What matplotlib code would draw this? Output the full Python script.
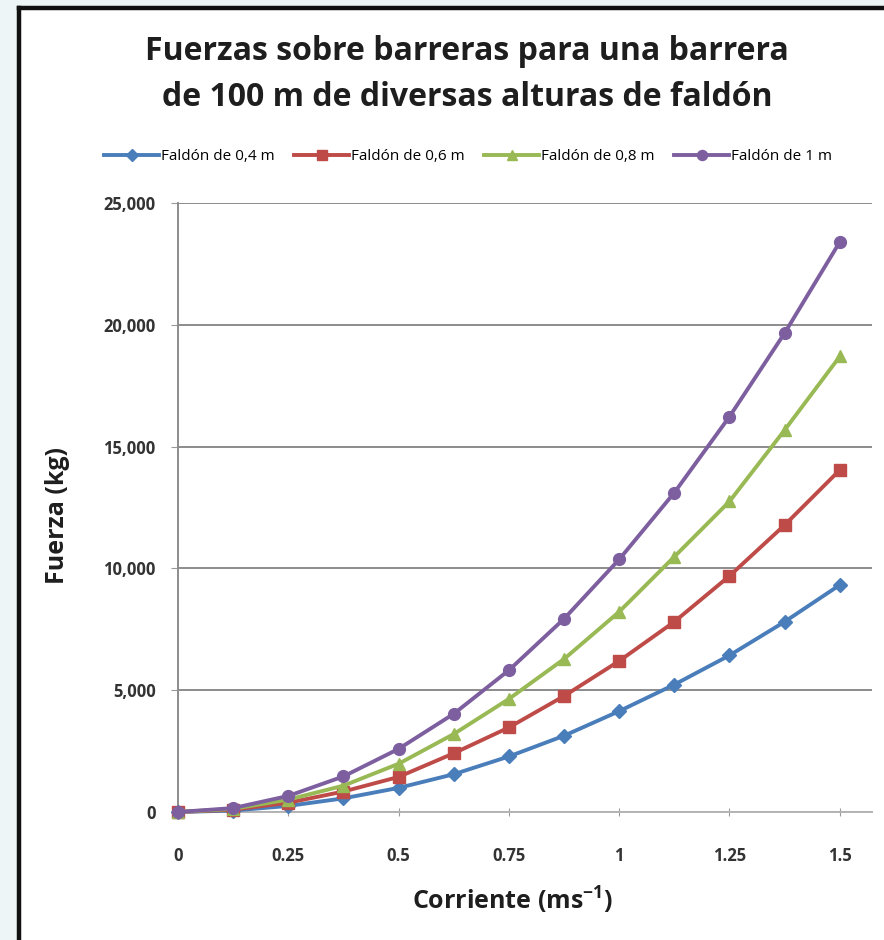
import matplotlib.pyplot as plt
from matplotlib.lines import Line2D
from matplotlib.patches import Rectangle

# velocidad de la corriente (m/s)
corriente = [0, 0.125, 0.25, 0.375, 0.5, 0.625, 0.75, 0.875, 1.0, 1.125, 1.25, 1.375, 1.5]

# fuerza (kg) por altura de faldón
faldon_04 = [0, 60, 250, 560, 990, 1550, 2280, 3130, 4140, 5230, 6430, 7810, 9320]
faldon_06 = [0, 95, 380, 840, 1440, 2410, 3470, 4760, 6200, 7810, 9690, 11780, 14040]
faldon_08 = [0, 130, 510, 1080, 1980, 3200, 4640, 6280, 8220, 10480, 12750, 15680, 18700]
faldon_1 = [0, 160, 660, 1460, 2590, 4030, 5820, 7930, 10370, 13110, 16230, 19660, 23400]

series = [
    ('Faldón de 0,4 m', faldon_04, '#4a7ebb', 'D', 7.5),
    ('Faldón de 0,6 m', faldon_06, '#be4b48', 's', 8.5),
    ('Faldón de 0,8 m', faldon_08, '#98b954', '^', 8.5),
    ('Faldón de 1 m', faldon_1, '#7d5fa0', 'o', 8.5),
]

plt.rcParams['font.family'] = ['Open Sans', 'DejaVu Sans']
plt.rcParams['mathtext.default'] = 'regular'

fig = plt.figure(figsize=(8.84, 9.4), dpi=100, facecolor='#edf5f6')
W, H = 884, 940

# panel blanco con borde negro (izquierda y arriba)
fig.add_artist(Rectangle((19 / W, 0), 1, 1 - 8 / H, transform=fig.transFigure,
                         facecolor='white', edgecolor='none', zorder=-10))
fig.add_artist(Line2D([19 / W, 19 / W], [0, 1 - 8 / H], transform=fig.transFigure,
                      color='#111111', lw=3.2))
fig.add_artist(Line2D([19 / W, 1], [1 - 8 / H, 1 - 8 / H], transform=fig.transFigure,
                      color='#111111', lw=3.2))

ax = fig.add_axes([178 / W, 1 - 812 / H, (872 - 178) / W, (812 - 203) / H])

for label, vals, color, marker, ms in series:
    ax.plot(corriente, vals, color=color, lw=2.8, marker=marker, markersize=ms,
            markeredgecolor=color, label=label, clip_on=False, zorder=3)

ax.set_xlim(0, 1.573)
ax.set_ylim(0, 25000)
ax.set_xticks([0, 0.25, 0.5, 0.75, 1, 1.25, 1.5])
ax.set_xticklabels(['0', '0.25', '0.5', '0.75', '1', '1.25', '1.5'])
ax.set_yticks([0, 5000, 10000, 15000, 20000, 25000])
ax.set_yticklabels(['0', '5,000', '10,000', '15,000', '20,000', '25,000'])

ax.yaxis.grid(True, color='#8c8c8c', lw=1.4)
ax.set_axisbelow(True)
for s in ['top', 'right']:
    ax.spines[s].set_visible(False)
ax.spines['left'].set_color('#8c8c8c')
ax.spines['bottom'].set_color('#b4b4b4')
ax.spines['left'].set_linewidth(1.4)
ax.spines['bottom'].set_linewidth(1.4)

ax.tick_params(axis='x', direction='inout', length=6, color='#9a9a9a', pad=22,
               labelsize=12, labelcolor='#333333')
ax.tick_params(axis='y', direction='out', length=5, color='#9a9a9a', pad=11,
               labelsize=12, labelcolor='#333333')
for t in ax.get_xticklabels() + ax.get_yticklabels():
    t.set_fontweight('bold')

fig.text(467 / W, 1 - 52 / H, 'Fuerzas sobre barreras para una barrera',
         ha='center', va='center', fontsize=23, fontweight='bold', color='#1e1e1e')
fig.text(467 / W, 1 - 97 / H, 'de 100 m de diversas alturas de faldón',
         ha='center', va='center', fontsize=23, fontweight='bold', color='#1e1e1e')

fig.text(58 / W, 1 - 515 / H, 'Fuerza (kg)', rotation=90, ha='center', va='center',
         fontsize=18, fontweight='bold', color='#1e1e1e')
fig.text(512 / W, 1 - 900 / H, r'Corriente (ms$^{-1}$)', ha='center', va='center',
         fontsize=18, fontweight='bold', color='#1e1e1e')

fig.legend(loc='center', bbox_to_anchor=(468 / W, 1 - 157 / H), ncol=4, frameon=False,
           fontsize=11, handlelength=3.6, handletextpad=0.1, columnspacing=1.3,
           markerscale=0.85)

fig.savefig('out.png', dpi=100, facecolor=fig.get_facecolor())
